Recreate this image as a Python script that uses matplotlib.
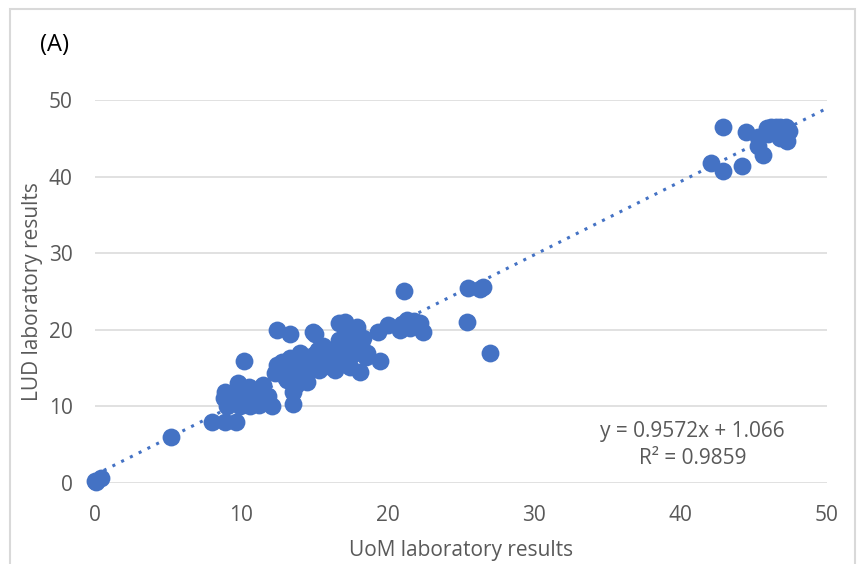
import matplotlib.pyplot as plt
from matplotlib.patches import Rectangle

# UoM vs LUD laboratory results
uom = [0.0, 0.1, 0.4, 5.2, 8.0, 8.9, 9.6,
       8.9, 8.8, 9.0, 9.2, 9.5, 9.7, 9.9, 9.8, 10.0, 10.3, 10.6, 10.8, 11.0, 11.2, 10.5, 11.5, 12.1, 11.8,
       10.2, 12.4, 13.3, 14.9, 16.7, 17.1,
       12.4, 12.3, 12.8, 13.3, 13.1, 13.5, 13.5, 13.7, 13.8, 14.0, 14.2, 14.4, 14.6, 14.8, 15.0, 15.2,
       15.3, 15.5, 15.8, 16.0, 16.2, 16.4, 16.3, 16.6, 16.7, 16.9, 17.1, 17.4, 17.4, 17.6, 17.9, 17.8,
       18.1, 18.3, 18.5, 18.6, 18.2, 19.3, 19.5, 20.0, 20.8, 21.3, 21.0, 21.5, 22.2, 22.4, 21.8,
       13.8, 14.5, 15.0, 14.2, 15.6, 16.8, 12.9,
       21.1, 25.4, 27.0, 25.5, 26.3, 26.5,
       42.1, 42.9, 42.9, 44.2, 44.5, 45.3, 45.3, 45.6, 45.9, 46.2, 46.5, 46.8, 47.2, 47.4, 46.5,
       47.0, 47.3, 47.1, 46.0, 46.8]
lud = [0.2, 0.1, 0.6, 6.0, 8.0, 7.9, 7.9,
       11.9, 11.1, 10.0, 11.0, 11.5, 10.8, 10.0, 13.0, 12.0, 11.0, 10.0, 11.9, 10.8, 10.2, 12.5, 12.8, 10.0, 11.3,
       15.9, 20.0, 19.4, 19.7, 20.9, 21.0,
       15.4, 14.3, 15.8, 16.3, 13.4, 11.9, 10.3, 12.8, 14.5, 17.0, 15.5, 14.0, 16.4, 15.0, 16.8, 17.4,
       14.7, 15.8, 16.5, 15.3, 17.2, 14.8, 15.7, 16.2, 18.7, 17.4, 15.5, 15.2, 19.6, 16.8, 20.4, 17.8,
       14.5, 18.9, 16.5, 17.0, 18.2, 19.7, 15.9, 20.6, 20.0, 21.3, 20.8, 20.2, 20.9, 19.7, 21.1,
       13.5, 13.2, 19.5, 15.1, 17.9, 18.1, 14.8,
       25.1, 21.0, 17.0, 25.4, 25.3, 25.6,
       41.8, 40.7, 46.5, 41.4, 45.8, 45.2, 44.0, 42.8, 46.3, 46.5, 46.5, 46.5, 46.5, 46.0, 45.8,
       45.2, 44.7, 44.9, 45.5, 45.0]

# linear trendline as reported on the chart
slope, intercept = 0.9572, 1.066
line_x = [0, 50]
line_y = [intercept + slope * v for v in line_x]

plt.rcParams['font.family'] = ['Open Sans', 'DejaVu Sans']
blue = '#4472C4'
grey = '#595959'

fig = plt.figure(figsize=(8.58, 5.64), dpi=100)
ax = fig.add_axes([95 / 858, 1 - 483 / 564, 732 / 858, 383 / 564])

ax.scatter(uom, lud, s=165, color=blue, linewidths=0, zorder=3, clip_on=False)
ax.plot(line_x, line_y, color=blue, linestyle=(0, (1, 2.2)), linewidth=2.2, zorder=2)

ax.set_xlim(0, 50)
ax.set_ylim(0, 50)
ax.set_xticks([0, 10, 20, 30, 40, 50])
ax.set_yticks([0, 10, 20, 30, 40, 50])
ax.grid(axis='y', color='#d9d9d9', linewidth=1.1)
ax.set_axisbelow(True)
for s in ax.spines.values():
    s.set_visible(False)
ax.tick_params(length=0, labelsize=15, labelcolor=grey)
ax.tick_params(axis='x', pad=16)
ax.tick_params(axis='y', pad=16)

ax.set_xlabel('UoM laboratory results', fontsize=15, color=grey, labelpad=10)
ax.set_ylabel('LUD laboratory results', fontsize=15, color=grey, labelpad=4)

ax.text(40.8, 5.0, 'y = 0.9572x + 1.066\nR² = 0.9859', ha='center', va='center',
        fontsize=15, color=grey, linespacing=1.35)
fig.text(40 / 858, 1 - 45 / 564, '(A)', fontsize=17, color='black', va='center')

fig.patches.append(Rectangle((10 / 858, -0.1), 845 / 858, 1.1 - 9 / 564, transform=fig.transFigure,
                             fill=False, edgecolor='#d9d9d9', linewidth=1.5))

plt.savefig('out.png', dpi=100)
